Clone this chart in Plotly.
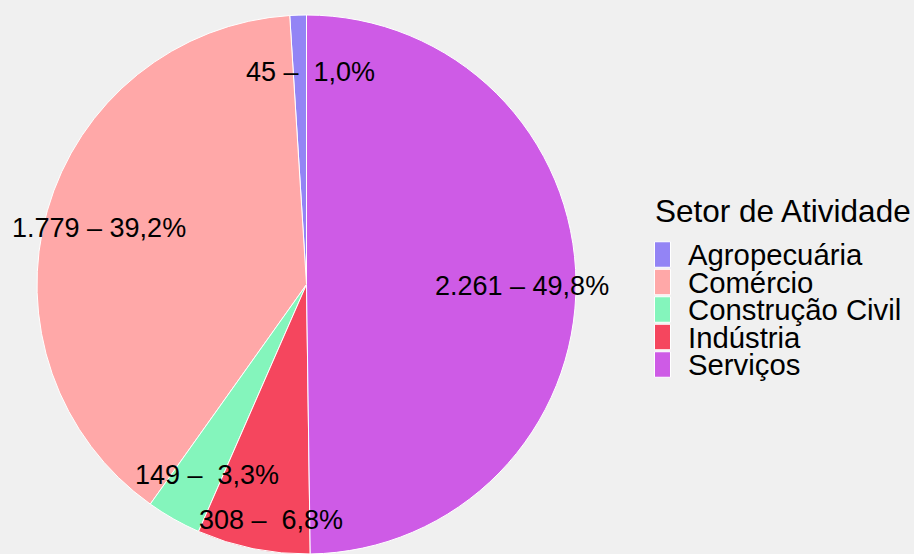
import math
import plotly.graph_objects as go

# ---- data ----
categories = ["Agropecuária", "Comércio", "Construção Civil", "Indústria", "Serviços"]
values = [45, 1779, 149, 308, 2261]
colors = ["#9384F5", "#FFA8A8", "#84F5BC", "#F5465E", "#CE5BE6"]
legend_title = "Setor de Atividade"

# ---- layout constants ----
W, H = 914, 554
R = 269.5               # pie radius in px
CX, CY = 306.5, 284.5   # pie centre in px
LABEL_R = 216           # radius at which labels sit
LABEL_DY = 3            # global vertical label offset (px)
# small repel-like offsets (px) applied to some labels
label_nudge = {"Agropecuária": (11, 0), "Construção Civil": (7, 0), "Indústria": (7, 21)}
FONT = "Liberation Sans, Arial, sans-serif"

# legend geometry (px)
LEG_KEY_X0, LEG_KEY_X1 = 654.5, 670.5
LEG_FIRST_CENTER = 254.5
LEG_PITCH = 27.5
LEG_KEY_H = 25.5
LEG_TEXT_X = 686
LEG_TITLE_X = 652.5
LEG_TITLE_Y = 211

total = sum(values)

def fmt_label(v):
    n = f"{v:,}".replace(",", ".")
    p = f"{v / total * 100:4.1f}".replace(".", ",").replace(" ", "\u00a0")
    return f"{n} – {p}%"

# plotly's counterclockwise mode puts the first slice clockwise of 12 o'clock;
# rotate back so the first slice starts at 12 o'clock and runs counterclockwise
rotation = -values[0] / total * 360

fig = go.Figure(
    go.Pie(
        labels=categories,
        values=values,
        marker=dict(colors=colors, line=dict(color="white", width=1)),
        sort=False,
        direction="counterclockwise",
        rotation=rotation,
        textinfo="none",
        hoverinfo="label+value+percent",
        showlegend=False,
        domain=dict(x=[(CX - R) / W, (CX + R) / W], y=[(H - CY - R) / H, (H - CY + R) / H]),
    )
)

annotations = []
shapes = []
cum = 0
for cat, v in zip(categories, values):
    theta = (cum + v / 2) / total * 2 * math.pi
    cum += v
    px = CX - LABEL_R * math.sin(theta)
    py = CY - LABEL_R * math.cos(theta) + LABEL_DY
    dx, dy = label_nudge.get(cat, (0, 0))
    px += dx
    py += dy
    annotations.append(
        dict(
            x=px / W, y=1 - py / H, xref="paper", yref="paper",
            text=fmt_label(v), showarrow=False,
            xanchor="center", yanchor="middle",
            font=dict(size=27, color="black", family=FONT),
        )
    )

# legend (drawn ggplot-style)
annotations.append(
    dict(
        x=LEG_TITLE_X / W, y=1 - LEG_TITLE_Y / H, xref="paper", yref="paper",
        text=legend_title, showarrow=False, xanchor="left", yanchor="middle",
        font=dict(size=31.5, color="black", family=FONT),
    )
)
for i, (cat, col) in enumerate(zip(categories, colors)):
    yc = LEG_FIRST_CENTER + i * LEG_PITCH
    shapes.append(
        dict(
            type="rect", xref="paper", yref="paper",
            x0=LEG_KEY_X0 / W, x1=LEG_KEY_X1 / W,
            y0=1 - (yc - LEG_KEY_H / 2) / H, y1=1 - (yc + LEG_KEY_H / 2) / H,
            fillcolor=col, line=dict(color="white", width=1),
        )
    )
    annotations.append(
        dict(
            x=LEG_TEXT_X / W, y=1 - yc / H, xref="paper", yref="paper",
            text=cat, showarrow=False, xanchor="left", yanchor="middle",
            font=dict(size=29.3, color="black", family=FONT),
        )
    )

fig.update_layout(
    width=W, height=H,
    margin=dict(l=0, r=0, t=0, b=0),
    paper_bgcolor="#F0F0F0",
    plot_bgcolor="#F0F0F0",
    font=dict(family=FONT, color="black"),
    annotations=annotations,
    shapes=shapes,
    showlegend=False,
)

fig.write_html(
    "out.html",
    config={"displayModeBar": False},
    post_script="document.body.style.margin='0';document.body.style.background='#F0F0F0';",
)
